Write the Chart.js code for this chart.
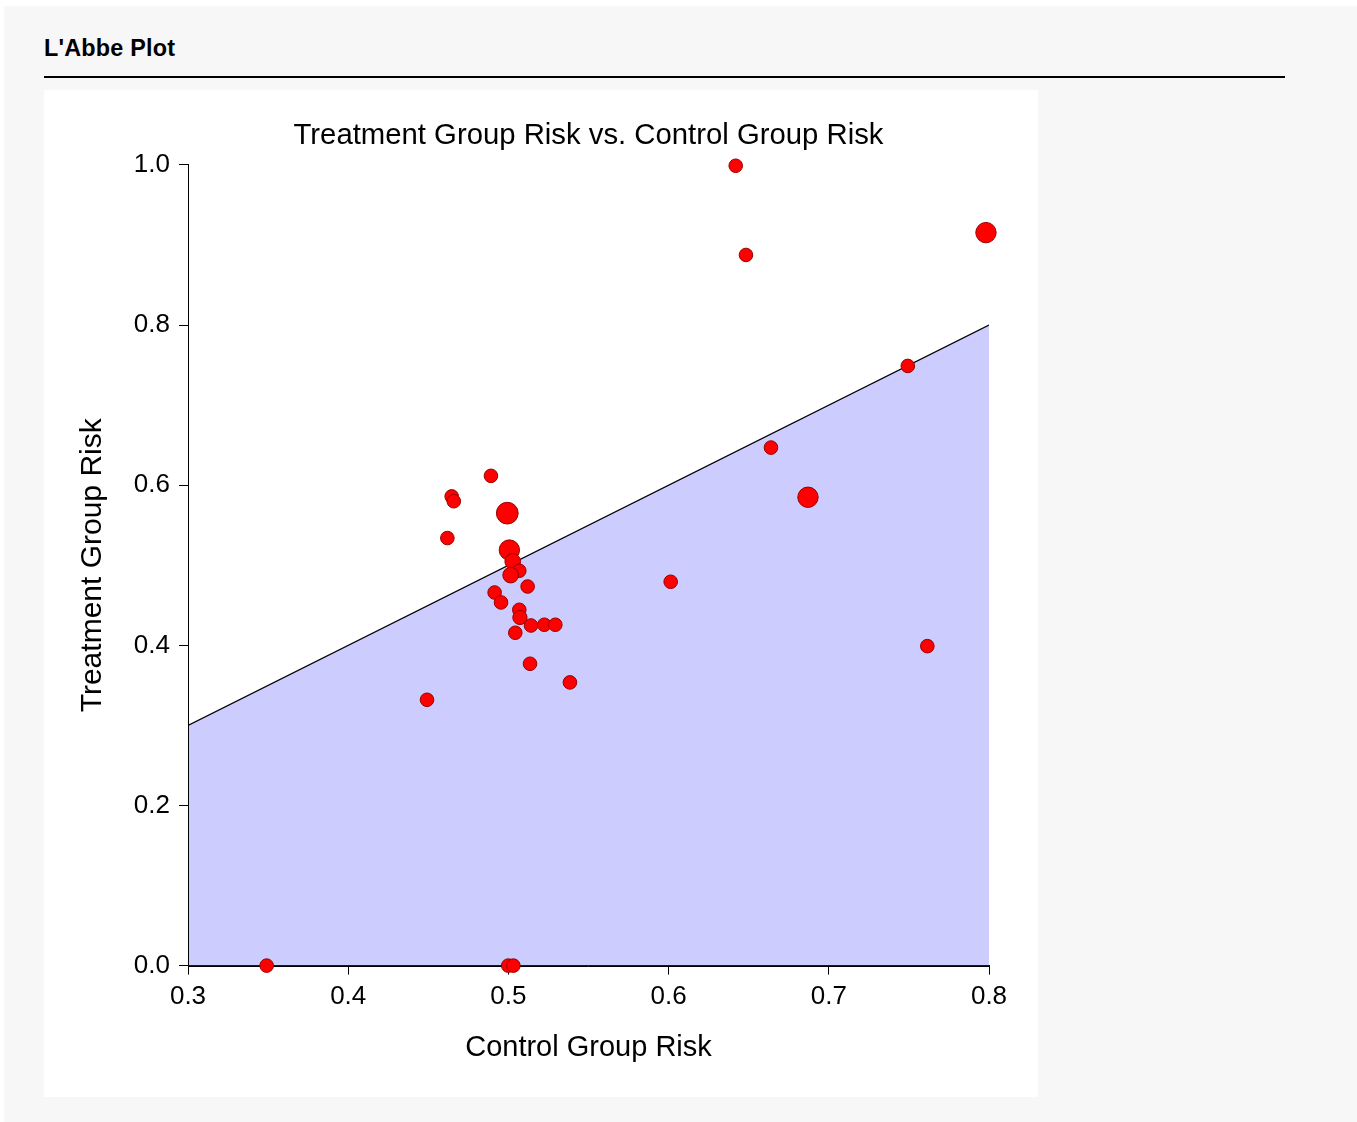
<!DOCTYPE html>
<html>
<head>
<meta charset="utf-8">
<script src="https://cdn.jsdelivr.net/npm/chart.js@4.4.1/dist/chart.umd.min.js"></script>
<style>
  html, body { margin: 0; padding: 0; background: #ffffff; }
  body { width: 1357px; height: 1122px; position: relative; overflow: hidden; font-family: "Liberation Sans", Arial, sans-serif; }
  #bg { position: absolute; left: 4px; top: 6px; right: 0; bottom: 0; background: #f7f7f7; }
  #hdr { position: absolute; left: 44px; top: 35px; font-weight: bold; font-size: 23.4px; color: #000; letter-spacing: 0.2px; }
  #rule { position: absolute; left: 44px; top: 76px; width: 1241px; height: 2px; background: #000; }
  #panel { position: absolute; left: 44px; top: 90px; width: 994px; height: 1007px; background: #ffffff; }
</style>
</head>
<body>
<div id="bg"></div>
<div id="hdr">L'Abbe Plot</div>
<div id="rule"></div>
<div id="panel"><canvas id="c" width="994" height="1007"></canvas></div>
<script>
// Control group risk (x), treatment group risk (y), relative study weight
const controlRisk = [0.4891, 0.4646, 0.4659, 0.4993, 0.4619, 0.5006, 0.5027, 0.5068, 0.5014, 0.5120,
                     0.4914, 0.4954, 0.5068, 0.5072, 0.5141, 0.5224, 0.5293, 0.5043, 0.5135, 0.5384,
                     0.4492, 0.6419, 0.6483, 0.7981, 0.7493, 0.6639, 0.6870, 0.6013, 0.7615, 0.3491,
                     0.4999, 0.5031];
const treatmentRisk = [0.6117, 0.5860, 0.5800, 0.5651, 0.5340, 0.5190, 0.5048, 0.4931, 0.4877, 0.4735,
                       0.4660, 0.4536, 0.4444, 0.4348, 0.4248, 0.4257, 0.4257, 0.4157, 0.3770, 0.3537,
                       0.3320, 0.9990, 0.8876, 0.9155, 0.7490, 0.6470, 0.5850, 0.4794, 0.3990, 0.0000,
                       0.0000, 0.0000];
const studyWeight = [1.0, 1.0, 1.0, 1.6, 1.0, 1.5, 1.15, 1.0, 1.15, 1.0,
                     1.0, 1.0, 1.0, 1.05, 1.0, 1.0, 1.0, 1.0, 1.0, 1.0,
                     1.0, 1.0, 1.0, 1.5, 1.0, 1.0, 1.5, 1.0, 1.0, 1.0,
                     1.0, 1.0];
const equalityLineX = [0.3, 0.8];
const equalityLineY = [0.3, 0.8];
const xTicks = [0.3, 0.4, 0.5, 0.6, 0.7, 0.8];
const yTicks = [0.0, 0.2, 0.4, 0.6, 0.8, 1.0];

const FONT = "'Liberation Sans', Arial, sans-serif";
const pts = controlRisk.map((x, i) => ({ x: x, y: treatmentRisk[i] }));
const linePts = equalityLineX.map((x, i) => ({ x: x, y: equalityLineY[i] }));

const axisRedraw = {
  id: 'axisRedraw',
  afterDatasetDraw(chart, args) {
    if (args.index !== 1) return;
    const a = chart.chartArea, ctx = chart.ctx;
    ctx.save();
    ctx.strokeStyle = '#000';
    ctx.lineWidth = 1;
    ctx.beginPath();
    const l = Math.round(a.left) + 0.5, b = Math.round(a.bottom) + 0.5;
    ctx.moveTo(l, a.top); ctx.lineTo(l, b); ctx.lineTo(a.right, b);
    ctx.stroke();
    ctx.restore();
  }
};

new Chart(document.getElementById('c'), {
  type: 'scatter',
  data: {
    datasets: [
      {
        data: pts,
        backgroundColor: '#ff0000',
        borderColor: '#990000',
        borderWidth: 1,
        pointRadius: ctx => 6.8 * studyWeight[ctx.dataIndex],
        pointHoverRadius: ctx => 6.8 * studyWeight[ctx.dataIndex],
        clip: false
      },
      {
        type: 'line',
        data: linePts,
        borderColor: '#000000',
        borderWidth: 1.3,
        backgroundColor: '#ccccff',
        fill: 'origin',
        pointRadius: 0,
        tension: 0
      }
    ]
  },
  options: {
    responsive: false,
    animation: false,
    events: [],
    layout: { padding: { left: 0, right: 49, top: 0, bottom: 31.6 } },
    plugins: {
      legend: { display: false },
      tooltip: { enabled: false },
      title: {
        display: true,
        text: 'Treatment Group Risk vs. Control Group Risk',
        color: '#000',
        fullSize: false,
        font: { family: FONT, size: 29.3, weight: 'normal', lineHeight: 1.2 },
        padding: { top: 28.4, bottom: 11.4 }
      }
    },
    scales: {
      x: {
        type: 'linear',
        min: 0.3, max: 0.8,
        afterBuildTicks: s => { s.ticks = xTicks.map(v => ({ value: v })); },
        ticks: {
          color: '#000', padding: 7,
          font: { family: FONT, size: 26 },
          callback: v => v.toFixed(1)
        },
        grid: { display: true, drawOnChartArea: false, drawTicks: true, tickLength: 9, color: '#000', tickWidth: 1 },
        border: { display: true, color: '#000', width: 1 },
        title: {
          display: true, text: 'Control Group Risk', color: '#000',
          font: { family: FONT, size: 29, lineHeight: 1.2 },
          padding: { top: 10.8, bottom: 0 }
        }
      },
      y: {
        type: 'linear',
        min: 0, max: 1,
        afterBuildTicks: s => { s.ticks = yTicks.map(v => ({ value: v })); },
        afterFit: s => { s.width = 144; },
        ticks: {
          color: '#000', padding: 9,
          font: { family: FONT, size: 26 },
          callback: v => v.toFixed(1)
        },
        grid: { display: true, drawOnChartArea: false, drawTicks: true, tickLength: 9, color: '#000', tickWidth: 1 },
        border: { display: true, color: '#000', width: 1 },
        title: {
          display: true, text: 'Treatment Group Risk', color: '#000',
          font: { family: FONT, size: 30, lineHeight: 1.2 },
          padding: { top: 31, bottom: 0 }
        }
      }
    }
  },
  plugins: [axisRedraw]
});
</script>
</body>
</html>
